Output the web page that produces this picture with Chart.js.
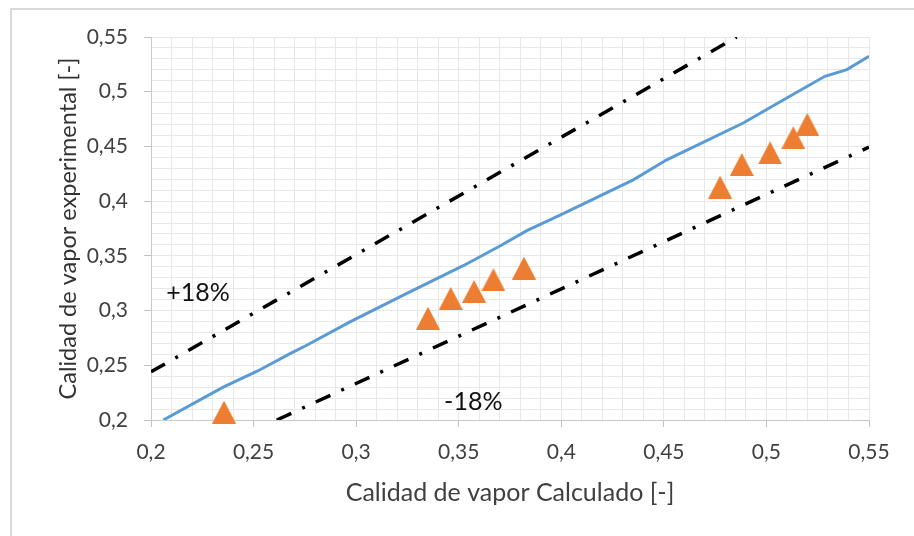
<!DOCTYPE html>
<html>
<head>
<meta charset="utf-8">
<script src="https://cdn.jsdelivr.net/npm/chart.js@4.4.1/dist/chart.umd.min.js"></script>
<style>
  html, body { margin: 0; padding: 0; background: #fff; }
  #wrap { width: 914px; height: 536px; }
</style>
</head>
<body>
<div id="wrap"><canvas id="chart-area" width="914" height="536"></canvas></div>
<script>
// data
var tickLabels = ['0,2', '0,25', '0,3', '0,35', '0,4', '0,45', '0,5', '0,55'];

var idealX = [0.2060, 0.2352, 0.2520, 0.2678, 0.2759, 0.2970, 0.3247, 0.3522, 0.3701, 0.3832, 0.3994, 0.4351, 0.4514, 0.4887, 0.5099, 0.5285, 0.5392, 0.5500];
var idealY = [0.2000, 0.2301, 0.2448, 0.2607, 0.2683, 0.2897, 0.3157, 0.3410, 0.3590, 0.3730, 0.3872, 0.4195, 0.4378, 0.4714, 0.4943, 0.5141, 0.5202, 0.5324];

var upperX = [0.2, 0.4855];
var upperY = [0.244, 0.55];
var lowerX = [0.2613, 0.55];
var lowerY = [0.2, 0.4494];

var expX = [0.2356, 0.3350, 0.3461, 0.3575, 0.3669, 0.3818, 0.4774, 0.4880, 0.5018, 0.5131, 0.5199];
var expY = [0.2072, 0.2930, 0.3111, 0.3175, 0.3282, 0.3389, 0.4128, 0.4335, 0.4442, 0.4580, 0.4701];

var notes = [
  {text: '+18%', x: 0.2229, y: 0.316},
  {text: '-18%', x: 0.3571, y: 0.2166}
];

function pairs(xs, ys) {
  return xs.map(function (x, i) { return {x: x, y: ys[i]}; });
}

// triangle marker
var tri = document.createElement('canvas');
tri.width = 24;
tri.height = 23;
var tctx = tri.getContext('2d');
tctx.fillStyle = '#ED7D31';
tctx.beginPath();
tctx.moveTo(0, 23);
tctx.lineTo(12, 0);
tctx.lineTo(24, 23);
tctx.closePath();
tctx.fill();

function isMajor(v) {
  return Math.round(v * 100) % 5 === 0;
}
function tickText(v) {
  var k = Math.round(v * 100);
  if (k % 5 !== 0) return '';
  return tickLabels[(k - 20) / 5];
}

var frame = {
  id: 'frame',
  beforeDraw: function (chart) {
    var c = chart.ctx;
    c.save();
    c.fillStyle = '#fff';
    c.fillRect(0, 0, chart.width, chart.height);
    c.strokeStyle = '#d9d9d9';
    c.lineWidth = 2;
    c.beginPath();
    c.moveTo(11, 540);
    c.lineTo(11, 9);
    c.lineTo(920, 9);
    c.stroke();
    c.restore();
  }
};

var labelsPlugin = {
  id: 'notes',
  afterDatasetsDraw: function (chart) {
    var c = chart.ctx;
    c.save();
    c.font = '25px Lato';
    c.fillStyle = '#111';
    c.textAlign = 'center';
    c.textBaseline = 'middle';
    notes.forEach(function (n) {
      c.fillText(n.text, chart.scales.x.getPixelForValue(n.x), chart.scales.y.getPixelForValue(n.y));
    });
    c.restore();
  }
};

function gridOpts() {
  return {
    color: '#e8e8e8',
    lineWidth: 1,
    tickLength: 7,
    tickColor: function (ctx) { return ctx.tick && isMajor(ctx.tick.value) ? '#c0c0c0' : 'rgba(0,0,0,0)'; }
  };
}

var config = {
  type: 'scatter',
  data: {
    datasets: [
      {
        label: 'exp',
        data: pairs(expX, expY),
        pointStyle: tri,
        pointRadius: 12,
        showLine: false,
        clip: false
      },
      {
        label: 'ideal',
        data: pairs(idealX, idealY),
        showLine: true,
        borderColor: '#5B9BD5',
        borderWidth: 3,
        pointRadius: 0,
        tension: 0
      },
      {
        label: '+18%',
        data: pairs(upperX, upperY),
        showLine: true,
        borderColor: '#000',
        borderWidth: 3.5,
        borderDash: [16, 12, 3, 12],
        pointRadius: 0
      },
      {
        label: '-18%',
        data: pairs(lowerX, lowerY),
        showLine: true,
        borderColor: '#000',
        borderWidth: 3.5,
        borderDash: [16, 12, 3, 12],
        pointRadius: 0
      }
    ]
  },
  options: {
    responsive: false,
    animation: false,
    layout: { padding: { left: 0, top: 37, right: 45, bottom: 0 } },
    plugins: { legend: { display: false }, tooltip: { enabled: false } },
    scales: {
      x: {
        type: 'linear',
        min: 0.2,
        max: 0.55,
        afterFit: function (s) { s.height = 116; },
        ticks: {
          stepSize: 0.01,
          autoSkip: false,
          maxRotation: 0,
          padding: 13,
          color: '#404040',
          font: { family: 'Lato', size: 21 },
          callback: tickText
        },
        grid: gridOpts(),
        border: { color: '#c8c8c8' },
        title: {
          display: true,
          text: 'Calidad de vapor Calculado [-]',
          color: '#404040',
          font: { family: 'Lato', size: 25 },
          padding: { top: 0, bottom: 28 }
        }
      },
      y: {
        type: 'linear',
        min: 0.2,
        max: 0.55,
        afterFit: function (s) { s.width = 151; },
        ticks: {
          stepSize: 0.01,
          autoSkip: false,
          padding: 16,
          color: '#404040',
          font: { family: 'Lato', size: 21 },
          callback: tickText
        },
        grid: gridOpts(),
        border: { color: '#c8c8c8' },
        title: {
          display: true,
          text: 'Calidad de vapor experimental [-]',
          color: '#333',
          font: { family: 'Lato', size: 23.5 },
          padding: { top: 54, bottom: 0 }
        }
      }
    }
  },
  plugins: [frame, labelsPlugin]
};

var ctx = document.getElementById('chart-area').getContext('2d');
var myChart = new Chart(ctx, config);
</script>
</body>
</html>
